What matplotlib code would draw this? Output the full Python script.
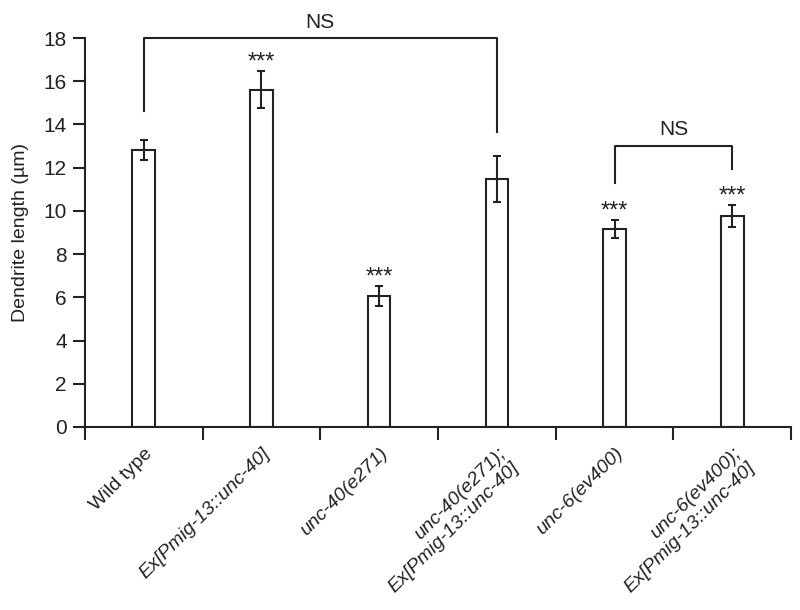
import matplotlib.pyplot as plt
import numpy as np

plt.rcParams['font.family'] = ['Liberation Sans', 'DejaVu Sans']

# ------------------------------------------------------
# Data
# ------------------------------------------------------
groups = [
    "Wild type",
    "Ex[Pmig-13::unc-40]",
    "unc-40(e271)",
    "unc-40(e271);\nEx[Pmig-13::unc-40]",
    "unc-6(ev400)",
    "unc-6(ev400);\nEx[Pmig-13::unc-40]",
]
italic = [False, True, True, True, True, True]
means = [12.82, 15.6, 6.06, 11.48, 9.16, 9.76]
errors = [0.45, 0.85, 0.45, 1.05, 0.4, 0.5]
stars = ["", "***", "***", "", "***", "***"]

# NS brackets: (left group, right group, bracket height, left drop, right drop)
brackets = [(0, 3, 18.0, 14.6, 13.67), (4, 5, 13.02, 11.27, 11.92)]

ink = "#222222"

fig = plt.figure(figsize=(8, 6.1), dpi=100)
ax = fig.add_axes([0.106, 0.30, 0.883, 0.6377])

x = np.arange(len(groups))
ax.bar(x, means, width=0.19, color="white", edgecolor=ink, linewidth=1.5, zorder=2)
ax.errorbar(x, means, yerr=errors, fmt="none", ecolor=ink, elinewidth=1.5,
            capsize=3, capthick=1.5, zorder=3)

for xi, m, e, s in zip(x, means, errors, stars):
    if s:
        ax.text(xi, m + e - 0.1, s, ha="center", va="bottom", fontsize=17, color=ink)

for a, b, h, dl, dr in brackets:
    ax.plot([a, a, b, b], [dl, h, h, dr], color=ink, lw=1.5, clip_on=False)
    ax.text((a + b) / 2, h + 0.3, "NS", ha="center", va="bottom", fontsize=15, color=ink)

# Axes
ax.set_xlim(-0.5, len(groups) - 0.5)
ax.set_ylim(0, 18)
ax.set_yticks(np.arange(0, 19, 2))
ax.set_xticks(x)
ax.set_xticklabels(groups, rotation=45, ha="right", rotation_mode="anchor")
for lab, it in zip(ax.get_xticklabels(), italic):
    if it:
        lab.set_style("italic")
ax.set_xticks(np.arange(-0.5, len(groups), 1), minor=True)
ax.tick_params(axis="x", which="major", length=0, pad=13, labelsize=14, colors=ink)
ax.tick_params(axis="x", which="minor", length=9, width=1.5, color=ink)
ax.tick_params(axis="y", length=9, width=1.5, labelsize=15, colors=ink, pad=4)

for side in ["top", "right"]:
    ax.spines[side].set_visible(False)
for side in ["left", "bottom"]:
    ax.spines[side].set_linewidth(1.5)
    ax.spines[side].set_color(ink)

ax.set_ylabel("Dendrite length (µm)", fontsize=14, color=ink, labelpad=10)

plt.savefig("out.png", dpi=100)
plt.close()
